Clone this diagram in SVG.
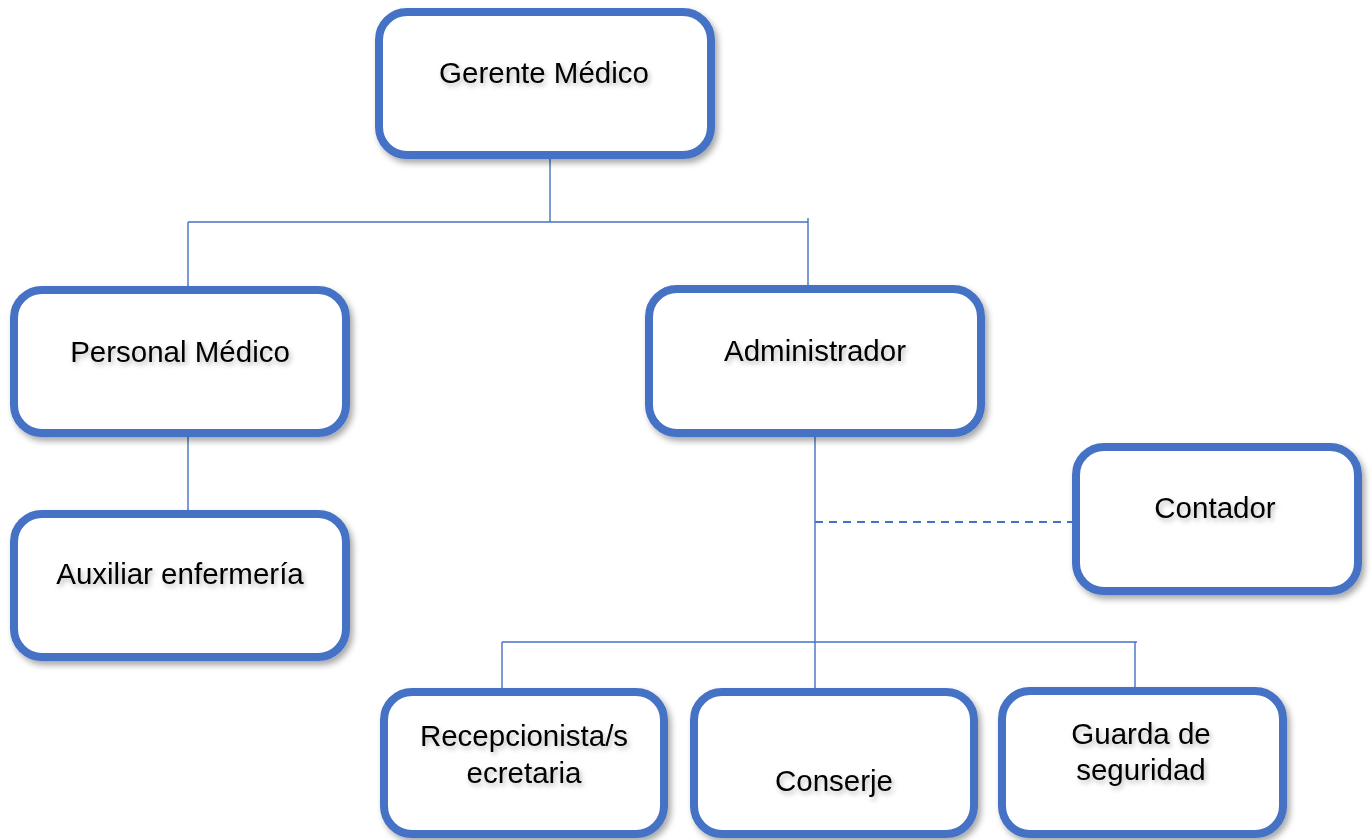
<svg xmlns="http://www.w3.org/2000/svg" width="1372" height="840" viewBox="0 0 1372 840">
<defs>
<filter id="bs" x="-10%" y="-10%" width="125%" height="130%"><feDropShadow dx="3" dy="4" stdDeviation="3" flood-color="#000" flood-opacity="0.35"/></filter>
<filter id="ts" x="-10%" y="-30%" width="125%" height="170%"><feDropShadow dx="2" dy="3" stdDeviation="2.5" flood-color="#000" flood-opacity="0.28"/></filter>
<style>
.box{fill:#fff;stroke:#4472C4;stroke-width:8;filter:url(#bs)}
.lbl{font-family:"Liberation Sans",Arial,sans-serif;font-size:29.5px;fill:#000;text-anchor:middle;filter:url(#ts)}
.ln{stroke:#4472C4;stroke-width:1.4;fill:none}
.dash{stroke:#4472C4;stroke-width:2;fill:none;stroke-dasharray:8 6}
</style>
</defs>
<rect width="1372" height="840" fill="#fff"/>
<g id="connectors">
<path class="ln" d="M550 158 V222 M188 222 H808 M808 218 V287 M188 222 V287 M188 437 V512 M815 437 V688 M502 642 H1137 M502 642 V688 M1135 642 V688"/>
<path class="dash" d="M815 522 H1072"/>
</g>
<g id="gerente"><rect class="box" x="379" y="12" width="332" height="143" rx="28"/><text class="lbl" x="544" y="83">Gerente Médico</text></g>
<g id="personal"><rect class="box" x="14" y="290" width="332" height="143" rx="28"/><text class="lbl" x="180" y="362">Personal Médico</text></g>
<g id="administrador"><rect class="box" x="649" y="289" width="332" height="144" rx="28"/><text class="lbl" x="815" y="361">Administrador</text></g>
<g id="auxiliar"><rect class="box" x="14" y="514" width="332" height="143" rx="28"/><text class="lbl" x="180" y="584">Auxiliar enfermería</text></g>
<g id="contador"><rect class="box" x="1076" y="447" width="282" height="144" rx="28"/><text class="lbl" x="1215" y="518">Contador</text></g>
<g id="recepcionista"><rect class="box" x="384" y="692" width="280" height="142" rx="28"/><text class="lbl" x="524" y="746">Recepcionista/s</text><text class="lbl" x="524" y="783">ecretaria</text></g>
<g id="conserje"><rect class="box" x="694" y="692" width="280" height="142" rx="28"/><text class="lbl" x="834" y="791">Conserje</text></g>
<g id="guarda"><rect class="box" x="1002" y="691" width="281" height="143" rx="28"/><text class="lbl" x="1141" y="744">Guarda de</text><text class="lbl" x="1141" y="780">seguridad</text></g>
</svg>
